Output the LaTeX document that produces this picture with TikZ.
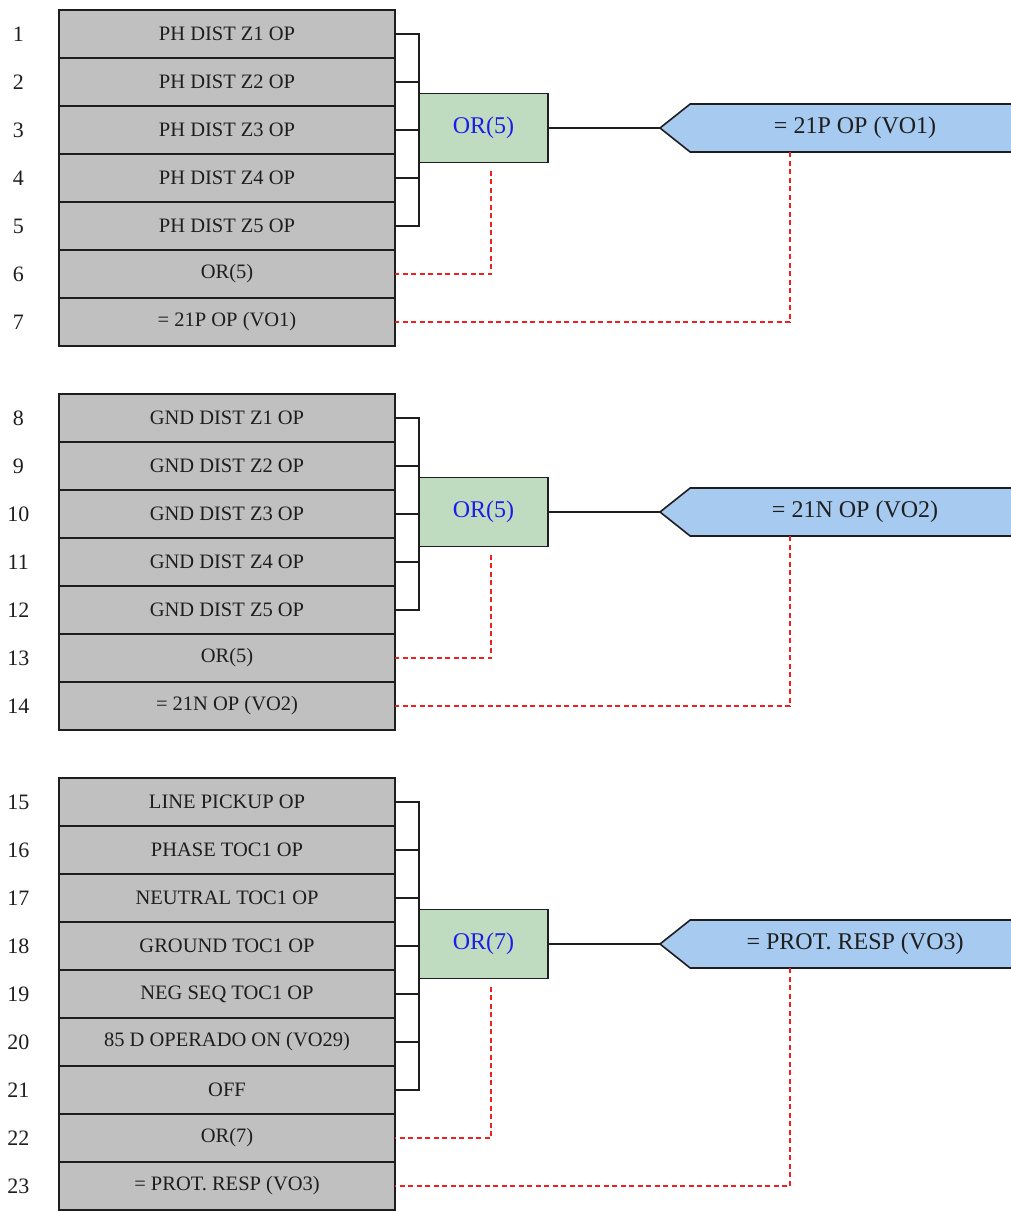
\documentclass[tikz,border=0pt]{standalone}
\usepackage{fontspec}
\setmainfont{Liberation Serif}
\usetikzlibrary{positioning,shapes.symbols}
\definecolor{rowgray}{HTML}{C0C0C0}
\definecolor{gatefill}{HTML}{C0DCC0}
\definecolor{outfill}{HTML}{A6CAF0}
\definecolor{gatetext}{HTML}{1C1CE8}
\definecolor{ink}{HTML}{1E1E1E}
\definecolor{dashred}{HTML}{F02020}
\tikzset{row/.style={draw=ink,fill=rowgray,line width=1.6pt,outer sep=0pt,inner sep=0pt,
  minimum width=336pt,minimum height=48pt,text=ink,font=\fontsize{20.5}{24}\selectfont},
  rownum/.style={minimum width=37pt,inner sep=0pt,text=ink,font=\fontsize{22}{26}\selectfont},
  gate/.style={draw=ink,fill=gatefill,line width=1.6pt,outer sep=0pt,
  minimum width=129pt,minimum height=69pt,text=gatetext,font=\fontsize{24}{28}\selectfont},
  outsig/.style={signal,signal to=west,signal pointer angle=77,draw=ink,fill=outfill,
  line width=1.6pt,outer sep=0pt,minimum width=360pt,minimum height=48pt,text=ink,
  font=\fontsize{24}{28}\selectfont},
  bus/.style={draw=ink,line width=1.4pt},
  link/.style={draw=dashred,line width=1.6pt,dash pattern=on 5pt off 3.5pt}}
\begin{document}
\begin{tikzpicture}[x=1pt,y=-1pt]
\useasboundingbox (0,0) rectangle (1011,1211);
\node[row] (r1) at (227,34) {PH DIST Z1 OP};
\node[row,below=0pt of r1] (r2) {PH DIST Z2 OP};
\node[row,below=0pt of r2] (r3) {PH DIST Z3 OP};
\node[row,below=0pt of r3] (r4) {PH DIST Z4 OP};
\node[row,below=0pt of r4] (r5) {PH DIST Z5 OP};
\node[row,below=0pt of r5] (r6) {OR(5)};
\node[row,below=0pt of r6] (r7) {= 21P OP (VO1)};
\node[row,below=48pt of r7] (r8) {GND DIST Z1 OP};
\node[row,below=0pt of r8] (r9) {GND DIST Z2 OP};
\node[row,below=0pt of r9] (r10) {GND DIST Z3 OP};
\node[row,below=0pt of r10] (r11) {GND DIST Z4 OP};
\node[row,below=0pt of r11] (r12) {GND DIST Z5 OP};
\node[row,below=0pt of r12] (r13) {OR(5)};
\node[row,below=0pt of r13] (r14) {= 21N OP (VO2)};
\node[row,below=48pt of r14] (r15) {LINE PICKUP OP};
\node[row,below=0pt of r15] (r16) {PHASE TOC1 OP};
\node[row,below=0pt of r16] (r17) {NEUTRAL TOC1 OP};
\node[row,below=0pt of r17] (r18) {GROUND TOC1 OP};
\node[row,below=0pt of r18] (r19) {NEG SEQ TOC1 OP};
\node[row,below=0pt of r19] (r20) {85 D OPERADO ON (VO29)};
\node[row,below=0pt of r20] (r21) {OFF};
\node[row,below=0pt of r21] (r22) {OR(7)};
\node[row,below=0pt of r22] (r23) {= PROT. RESP (VO3)};

\node[rownum,left=22pt of r1] (n1) {1};
\node[rownum,left=22pt of r2] (n2) {2};
\node[rownum,left=22pt of r3] (n3) {3};
\node[rownum,left=22pt of r4] (n4) {4};
\node[rownum,left=22pt of r5] (n5) {5};
\node[rownum,left=22pt of r6] (n6) {6};
\node[rownum,left=22pt of r7] (n7) {7};
\node[rownum,left=22pt of r8] (n8) {8};
\node[rownum,left=22pt of r9] (n9) {9};
\node[rownum,left=22pt of r10] (n10) {10};
\node[rownum,left=22pt of r11] (n11) {11};
\node[rownum,left=22pt of r12] (n12) {12};
\node[rownum,left=22pt of r13] (n13) {13};
\node[rownum,left=22pt of r14] (n14) {14};
\node[rownum,left=22pt of r15] (n15) {15};
\node[rownum,left=22pt of r16] (n16) {16};
\node[rownum,left=22pt of r17] (n17) {17};
\node[rownum,left=22pt of r18] (n18) {18};
\node[rownum,left=22pt of r19] (n19) {19};
\node[rownum,left=22pt of r20] (n20) {20};
\node[rownum,left=22pt of r21] (n21) {21};
\node[rownum,left=22pt of r22] (n22) {22};
\node[rownum,left=22pt of r23] (n23) {23};

\node[gate,right=24pt of r3,yshift=2pt] (g1) {OR(5)};
\node[gate,right=24pt of r10,yshift=2pt] (g2) {OR(5)};
\node[gate,right=24pt of r18,yshift=2pt] (g3) {OR(7)};
\node[outsig,right=112pt of g1] (o1) {= 21P OP (VO1)};
\node[outsig,right=112pt of g2] (o2) {= 21N OP (VO2)};
\node[outsig,right=112pt of g3] (o3) {= PROT. RESP (VO3)};

\draw[bus] (r1.east) -| (g1.west);
\draw[bus] (r5.east) -| (g1.west);
\draw[bus] (r2.east) -- (r2.east -| g1.west);
\draw[bus] (r3.east) -- (r3.east -| g1.west);
\draw[bus] (r4.east) -- (r4.east -| g1.west);
\draw[bus] (r8.east) -| (g2.west);
\draw[bus] (r12.east) -| (g2.west);
\draw[bus] (r9.east) -- (r9.east -| g2.west);
\draw[bus] (r10.east) -- (r10.east -| g2.west);
\draw[bus] (r11.east) -- (r11.east -| g2.west);
\draw[bus] (r15.east) -| (g3.west);
\draw[bus] (r21.east) -| (g3.west);
\draw[bus] (r16.east) -- (r16.east -| g3.west);
\draw[bus] (r17.east) -- (r17.east -| g3.west);
\draw[bus] (r18.east) -- (r18.east -| g3.west);
\draw[bus] (r19.east) -- (r19.east -| g3.west);
\draw[bus] (r20.east) -- (r20.east -| g3.west);

\draw[bus] (g1.east) -- (o1.west);
\draw[bus] (g2.east) -- (o2.west);
\draw[bus] (g3.east) -- (o3.west);

\draw[link] ([xshift=7.5pt,yshift=-8pt]g1.south) |- (r6.east);
\draw[link] ([xshift=7.5pt,yshift=-8pt]g2.south) |- (r13.east);
\draw[link] ([xshift=7.5pt,yshift=-8pt]g3.south) |- (r22.east);
\draw[link] ([xshift=-65pt]o1.south) |- (r7.east);
\draw[link] ([xshift=-65pt]o2.south) |- (r14.east);
\draw[link] ([xshift=-65pt]o3.south) |- (r23.east);
\end{tikzpicture}
\end{document}
